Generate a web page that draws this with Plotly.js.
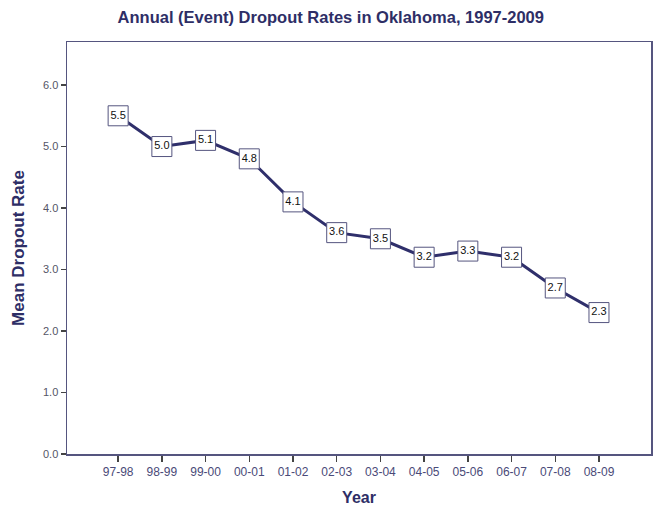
<!DOCTYPE html>
<html>
<head>
<meta charset="utf-8">
<script src="https://cdn.plot.ly/plotly-3.0.1.min.js"></script>
<style>html,body{margin:0;padding:0;background:#fff;}#chart{width:655px;height:506px;}</style>
</head>
<body>
<div id="chart"></div>
<script>
const years = ["97-98","98-99","99-00","00-01","01-02","02-03","03-04","04-05","05-06","06-07","07-08","08-09"];
const rates = [5.5, 5.0, 5.1, 4.8, 4.1, 3.6, 3.5, 3.2, 3.3, 3.2, 2.7, 2.3];
const yTicks = [0, 1, 2, 3, 4, 5, 6];

const navy = "#2f2f6b";
const trace = {
  x: years,
  y: rates,
  type: "scatter",
  mode: "lines+markers+text",
  text: rates.map(v => v.toFixed(1)),
  textposition: "middle center",
  textfont: {family: "Liberation Sans, Arial, sans-serif", size: 11, color: "#111"},
  line: {color: navy, width: 3},
  marker: {symbol: "square", size: 20, color: "#ffffff", line: {color: "#55557f", width: 1}},
  cliponaxis: false,
  hoverinfo: "skip"
};

const layout = {
  width: 655, height: 506,
  margin: {l: 67, r: 4, t: 42, b: 52},
  paper_bgcolor: "#ffffff",
  plot_bgcolor: "#ffffff",
  showlegend: false,
  font: {family: "Liberation Sans, Arial, sans-serif"},
  title: {
    text: "<b>Annual (Event) Dropout Rates in Oklahoma, 1997-2009</b>",
    font: {size: 16.5, color: "#2e2e66"},
    x: 0.505, xanchor: "center", y: 0.966, yanchor: "middle"
  },
  xaxis: {
    type: "category",
    range: [-1.17, 12.19],
    showgrid: false, zeroline: false,
    showline: true, mirror: true, linecolor: "#55557f", linewidth: 1.5,
    ticks: "outside", ticklen: 6, tickwidth: 1.5, tickcolor: "#444",
    tickfont: {size: 12, color: "#4a4a78"},
    title: {text: "<b>Year</b>", font: {size: 16, color: "#2e2e66"}, standoff: 20}
  },
  yaxis: {
    range: [0, 6.7],
    tickvals: yTicks,
    ticktext: yTicks.map(v => v.toFixed(1)),
    showgrid: false, zeroline: false,
    showline: true, mirror: true, linecolor: "#55557f", linewidth: 1.5,
    ticks: "outside", ticklen: 5, tickwidth: 1.5, tickcolor: "#444",
    tickfont: {size: 11, color: "#555566"},
    title: {text: "<b>Mean Dropout Rate</b>", font: {size: 17, color: "#2e2e66"}, standoff: 14}
  }
};

Plotly.newPlot("chart", [trace], layout, {displayModeBar: false, staticPlot: true});
</script>
</body>
</html>
